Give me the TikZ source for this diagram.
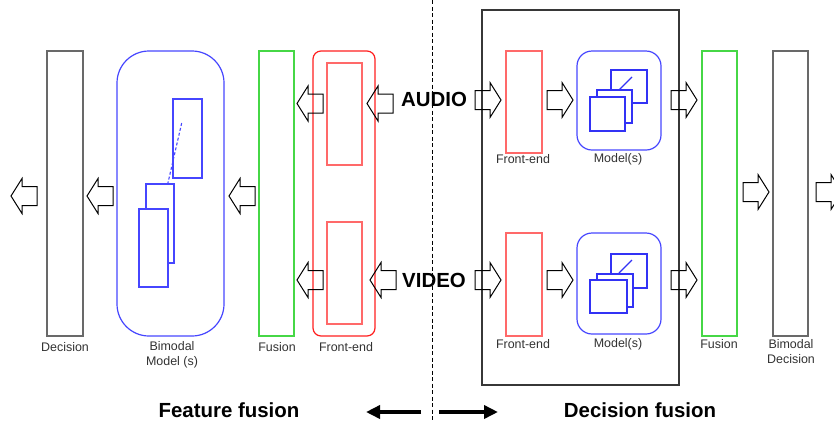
\documentclass[tikz,border=0pt]{standalone}
\usepackage{fontspec}
\setmainfont{Liberation Sans}
\usetikzlibrary{arrows.meta}
\definecolor{cred}{RGB}{255,30,30}
\definecolor{lred}{RGB}{255,105,105}
\definecolor{cblue}{RGB}{70,70,255}
\definecolor{dblue}{RGB}{50,50,245}
\definecolor{cgreen}{RGB}{70,215,70}
\definecolor{cgray}{RGB}{105,105,105}
\definecolor{cdark}{RGB}{55,55,55}
\definecolor{ctext}{RGB}{50,50,50}
\begin{document}
\begin{tikzpicture}[x=1bp,y=-1bp,
  bx/.style 2 args={draw, line width=1.2bp, inner sep=0pt, outer sep=0pt, minimum width=#1bp, minimum height=#2bp},
  lbl/.style={font=\fontsize{12.5}{15}\selectfont, text=ctext, inner sep=0pt, align=center},
  big/.style={font=\fontsize{20.5}{24}\selectfont\bfseries, text=black, inner sep=0pt},
  blockarrow/.style={draw=black, line width=1bp, line join=miter},
  larr/.pic={\draw[blockarrow] (0,0) -- (11,-17.5) -- (11,-9.5) -- (26,-9.5) -- (26,9.5) -- (11,9.5) -- (11,17.5) -- cycle;},
  rarr/.pic={\draw[blockarrow] (0,0) -- (-11,-17.5) -- (-11,-9.5) -- (-26,-9.5) -- (-26,9.5) -- (-11,9.5) -- (-11,17.5) -- cycle;},
  fatarrow/.style={line width=4bp, -{Triangle[length=14bp,width=13bp]}}
]
\clip (0,0) rectangle (834,422);
\useasboundingbox (0,0) rectangle (834,422);

% ---------- Feature fusion (left) ----------
\node[bx={36}{285}, draw=cgray] (dec) at (65,193.5) {};
\node[bx={107}{285}, draw=cblue, rounded corners=32bp] (bim) at (170.5,193.5) {};
\draw[cblue, line width=1.1bp, dash pattern=on 3bp off 2bp] (181.7,123) -- (167.7,184);
\node[bx={29}{79}, draw=cblue] (bimA) at (187.5,138.5) {};
\node[bx={28}{79}, draw=cblue, fill=white] (bimB) at (160,223.5) {};
\node[bx={29}{78}, draw=cblue, fill=white] (bimC) at (153.5,248) {};
\node[bx={35}{285}, draw=cgreen] (fus) at (276.5,193.5) {};
\node[bx={62}{285}, draw=cred, rounded corners=8bp] (fe) at (344,193.5) {};
\node[bx={35}{102}, draw=lred] (feA) at (344.5,114) {};
\node[bx={35}{102}, draw=lred] (feV) at (344.5,273) {};

\node[lbl] (tdec) at (65,347) {Decision};
\node[lbl] (tbim) at (172,354.5) {Bimodal\\Model (s)};
\node[lbl] (tfus) at (277,347) {Fusion};
\node[lbl] (tfe) at (346,347) {Front-end};

\pic at (367,103.5) {larr};
\pic at (297,103.5) {larr};
\pic at (370,280) {larr};
\pic at (297,280) {larr};
\pic at (229,196) {larr};
\pic at (87,196) {larr};
\pic at (11,196) {larr};

% ---------- middle ----------
\draw[black, line width=0.8bp, dash pattern=on 4bp off 2.5bp] (432,0) -- (432,422);
\node[big] (audio) at (434,99) {AUDIO};
\node[big] (video) at (434,280) {VIDEO};

% ---------- Decision fusion (right) ----------
\node[bx={197}{375}, draw=cdark] (dbox) at (580.5,197.5) {};
\node[bx={36}{102}, draw=lred] (feA2) at (524,102) {};
\node[bx={84}{99}, draw=cblue, rounded corners=15bp] (modA) at (619,100.5) {};
\node[bx={36}{33}, draw=dblue] (sqA1) at (629,86.5) {};
\node[bx={35}{33}, draw=dblue, fill=white] (sqA2) at (614.5,106.5) {};
\node[bx={35}{34}, draw=dblue, fill=white] (sqA3) at (607.5,114) {};
\draw[dblue, line width=1.1bp] (619,90) -- (632,77);

\node[bx={36}{103}, draw=lred] (feV2) at (524,284.5) {};
\node[bx={84}{101}, draw=cblue, rounded corners=15bp] (modV) at (619,283.5) {};
\node[bx={36}{34}, draw=dblue] (sqV1) at (629,271) {};
\node[bx={36}{33}, draw=dblue, fill=white] (sqV2) at (615,290.5) {};
\node[bx={37}{33}, draw=dblue, fill=white] (sqV3) at (608.5,296.5) {};
\draw[dblue, line width=1.1bp] (619,273) -- (632,260);

\node[bx={35}{285}, draw=cgreen] (fus2) at (719.5,193.5) {};
\node[bx={35}{285}, draw=cgray] (bdec) at (790.5,193.5) {};

\node[lbl] (tfeA) at (523,159) {Front-end};
\node[lbl] (tmodA) at (618,159) {Model(s)};
\node[lbl] (tfeV) at (523,344) {Front-end};
\node[lbl] (tmodV) at (618,344) {Model(s)};
\node[lbl] (tfus2) at (719,344) {Fusion};
\node[lbl] (tbdec) at (791,351.5) {Bimodal\\Decision};

\pic at (501,100) {rarr};
\pic at (573,100) {rarr};
\pic at (697,100) {rarr};
\pic at (501,280) {rarr};
\pic at (573,280) {rarr};
\pic at (697,280) {rarr};
\pic at (769,192) {rarr};
\pic at (842,192) {rarr};

% ---------- bottom ----------
\node[big] (ff) at (229,410) {Feature fusion};
\node[big] (df) at (640,410) {Decision fusion};
\coordinate (la0) at (421,412);
\coordinate (la1) at (366,412);
\coordinate (ra0) at (439,412);
\coordinate (ra1) at (498,412);
\draw[fatarrow] (la0) -- (la1);
\draw[fatarrow] (ra0) -- (ra1);
\end{tikzpicture}
\end{document}
